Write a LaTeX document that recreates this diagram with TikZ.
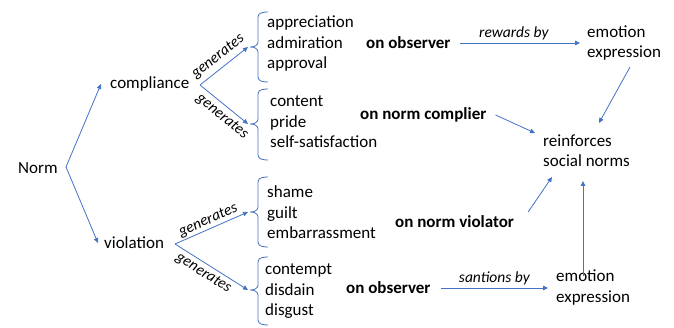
\documentclass[tikz,border=0pt]{standalone}
\usepackage{fontspec}
\setmainfont{Carlito}
\usetikzlibrary{arrows.meta}
\definecolor{ablue}{HTML}{4472C4}
\newcommand\mybrace[4]{%
  \draw[brc] (#1+10,#2) to[out=180,in=90] (#1,#2+5) -- (#1,#3-5)
    to[out=-90,in=0] (#1-8,#3) to[out=0,in=90] (#1,#3+5) -- (#1,#4-5)
    to[out=-90,in=180] (#1+10,#4);}
\tikzset{
  txt/.style={inner sep=0pt, anchor=west, align=left, font=\fontsize{17}{20.5}\selectfont},
  bld/.style={txt, font=\fontsize{17}{20.5}\selectfont\bfseries},
  lbl/.style={inner sep=0pt, font=\fontsize{15.5}{18}\selectfont\itshape},
  arr/.style={draw=ablue, line width=0.8pt, -{Triangle[length=5pt,width=4.5pt]}},
  brc/.style={draw=ablue, line width=0.8pt},
}
\begin{document}
\begin{tikzpicture}[x=1pt,y=-1pt]
\useasboundingbox (0,0) rectangle (674,328);
% left nodes
\node[txt] (norm) at (18,168) {Norm};
\node[txt] (compl) at (110,84) {compliance};
\node[txt] (viol) at (104,243) {violation};
% emotion groups
\node[txt] (g1) at (267,43.5) {appreciation\\admiration\\approval};
\node[txt] (g2) at (270,122) {content\\pride\\self-satisfaction};
\node[txt] (g3) at (267,212.5) {shame\\guilt\\embarrassment};
\node[txt] (g4) at (265,291.5) {contempt\\disdain\\disgust};
% right side
\node[bld] (obs1) at (366,43) {on observer};
\node[txt] (emo1) at (587,43) {emotion\\expression};
\node[bld] (ncomp) at (360,115) {on norm complier};
\node[txt] (reinf) at (543,150.5) {reinforces\\social norms};
\node[bld] (nviol) at (395,222) {on norm violator};
\node[bld] (obs2) at (346,288) {on observer};
\node[txt] (emo2) at (556,287.5) {emotion\\expression};
% braces
\mybrace{258}{12}{47}{82}
\mybrace{258}{89}{124}{160}
\mybrace{258}{177}{212}{247}
\mybrace{258}{257}{290}{325}
\coordinate (b1) at (248,47);
\coordinate (b2) at (248,124);
\coordinate (b3) at (248,212);
\coordinate (b4) at (248,290);
% junction points
\coordinate (nj) at (66,167);
\coordinate (cj) at (200,85);
\coordinate (vj) at (175,244);
% left arrows
\draw[arr] (nj) -- ([xshift=-9pt]compl.west);
\draw[arr] (nj) -- ([xshift=-6pt]viol.west);
\draw[arr] (cj) -- node[lbl, sloped, above=4.5pt, pos=0.52] {generates} (b1);
\draw[arr] (cj) -- node[lbl, sloped, below=4pt, pos=0.6] {generates} (b2);
\draw[arr] (vj) -- node[lbl, sloped, above=1.5pt, pos=0.5] {generates} (b3);
\draw[arr] (vj) -- node[lbl, sloped, below=3pt, pos=0.46] {generates} (b4);
% right arrows
\coordinate (e1s) at (630,67);
\coordinate (r1) at (599,123);
\coordinate (r2) at (535,133);
\coordinate (r3) at (552,177);
\coordinate (r4) at (583,181);
\draw[arr] ([xshift=9pt]obs1.east) -- node[lbl, above=3pt, pos=0.45] {rewards by} ([xshift=-7pt]obs1.east -| emo1.west);
\draw[arr] (e1s) -- (r1);
\draw[arr] ([xshift=9pt]ncomp.east) -- (r2);
\draw[arr] ([xshift=14pt,yshift=10pt]nviol.east) -- (r3);
\draw[arr] ([yshift=-6pt]emo2.north -| r4) -- (r4);
\draw[arr] ([xshift=10pt]obs2.east) -- node[lbl, above=3pt] {santions by} ([xshift=-8pt]obs2.east -| emo2.west);
\end{tikzpicture}
\end{document}
